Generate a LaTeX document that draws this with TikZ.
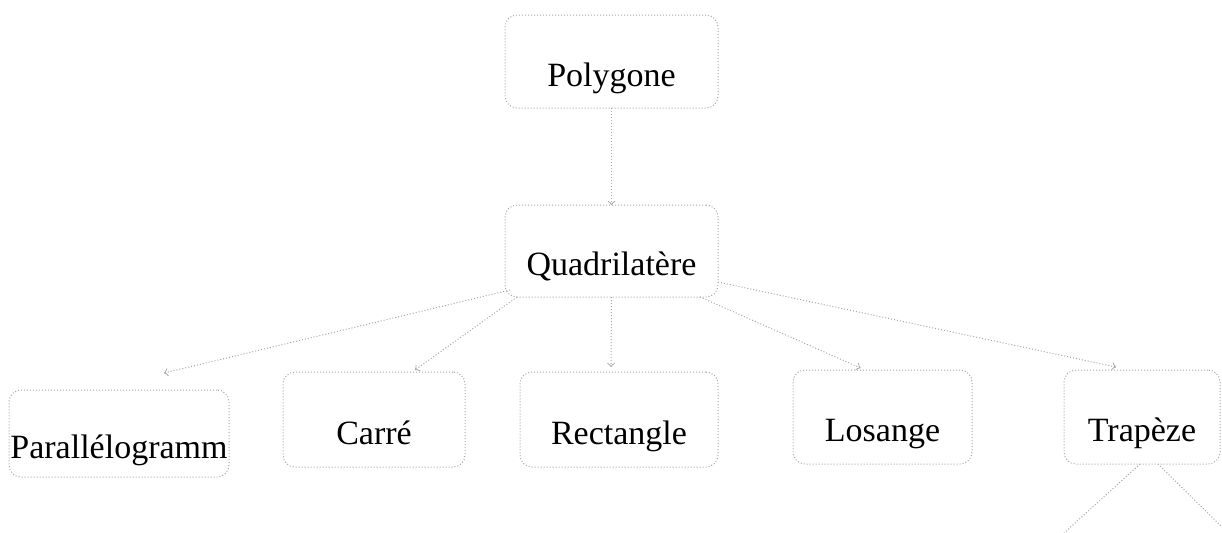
\documentclass[tikz,border=0pt]{standalone}
\usepackage{fontspec}
\setmainfont{Liberation Serif}

\begin{document}
\begin{tikzpicture}[x=0.5pt, y=-0.5pt,
        box/.style={rectangle, rounded corners=6pt, draw=black!35, densely dotted, line width=0.5pt,
            font=\fontsize{17}{20}\selectfont, text height=28.5pt, text depth=4pt, inner sep=0pt, outer sep=0pt},
        wire/.style={draw=black!35, densely dotted, line width=0.5pt},
        link/.style={wire, ->}]
        \useasboundingbox (0,0) rectangle (1222,532);

        \node[box, minimum width=106.5pt, minimum height=46.5pt] (polygone) at(611.5,61.5){Polygone};
        \node[box, minimum width=106.5pt, minimum height=46pt] (quadrilatere) at(611.5,251){Quadrilatère};
        \draw [link] (polygone) -- (quadrilatere);

        \node[box, minimum width=110pt, minimum height=43.5pt] (parallelogramme) at(119,433.5){Parallélogramm};
        \node[box, minimum width=91pt, minimum height=47.5pt] (carre) at(374,419.5){Carré};
        \node[box, minimum width=99pt, minimum height=47.5pt] (rectangle) at(619,419.5){Rectangle};
        \node[box, minimum width=89.5pt, minimum height=47pt] (losange) at(882.5,417){Losange};
        \node[box, minimum width=78pt, minimum height=47pt] (trapeze) at(1142,417){Trapèze};

        \draw [link] ([shift={(5,-7)}]quadrilatere.south west) -- ([shift={(45,-17)}]parallelogramme.north);
        \draw [link] ([shift={(12,0)}]quadrilatere.south west) -- ([shift={(41,-2)}]carre.north);
        \draw [link] (quadrilatere.south) -- ([shift={(-8,-5)}]rectangle.north);
        \draw [link] ([shift={(-18,0)}]quadrilatere.south east) -- ([shift={(-22,-2)}]losange.north);
        \draw [link] ([shift={(0,-15)}]quadrilatere.south east) -- ([shift={(-26,-3)}]trapeze.north);

        % lines leaving the page below Trapeze
        \coordinate (trapeze-left) at (1064,533);
        \coordinate (trapeze-right) at (1223,528);
        \draw [wire] ([shift={(-2,0)}]trapeze.south) -- (trapeze-left);
        \draw [wire] ([shift={(16,0)}]trapeze.south) -- (trapeze-right);

\end{tikzpicture}
\end{document}
